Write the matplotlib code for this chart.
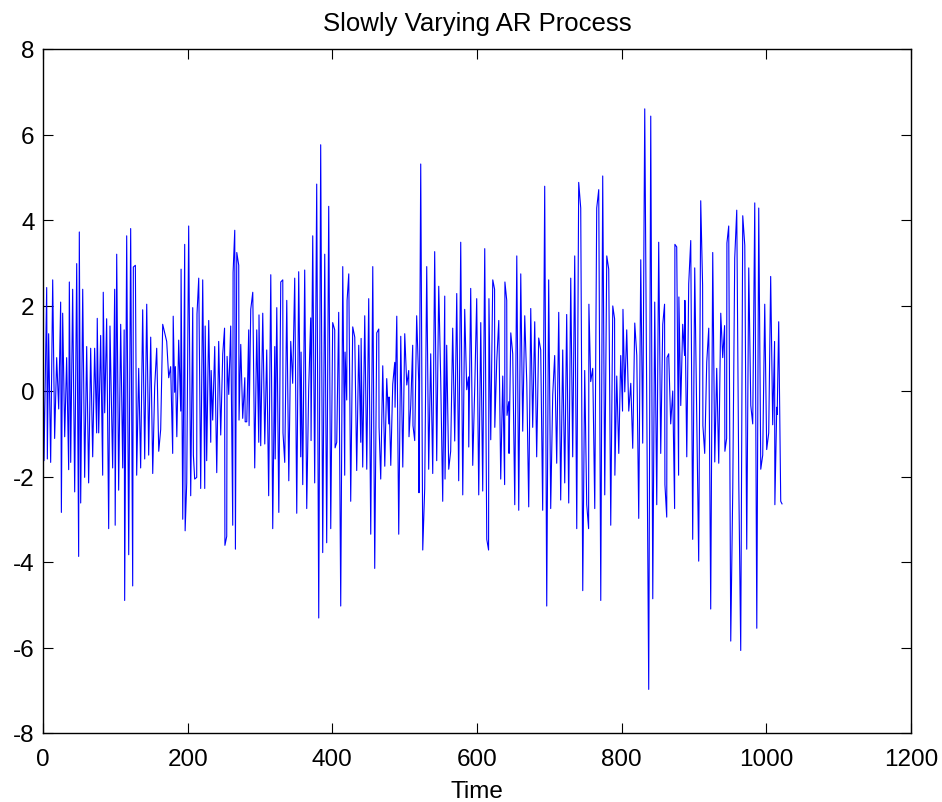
import matplotlib
matplotlib.use("Agg")
import matplotlib.pyplot as plt
from matplotlib import font_manager

# Turning points (time, value)
time = [
    0, 1.4, 5.1, 6.0, 7.8, 10.6, 13.4, 16.1, 18.9, 21.7, 24.4, 25.4, 27.2, 30.0, 32.7, 35.5, 36.4, 38.3,
    41.0, 43.8, 46.6, 49.3, 50.2, 52.1, 54.9, 57.6, 60.4, 63.1, 65.9, 68.7, 71.4, 74.2, 75.0, 77.0,
    79.7, 82.5, 83.3, 85.3, 88.0, 90.8, 92.6, 96.3, 99.1, 99.8, 101.9, 104.6, 107.4, 110.2, 112.2,
    112.9, 115.7, 118.5, 121.2, 124.0, 124.9, 127.7, 129.5, 132.3, 135.0, 137.8, 140.6, 143.4, 146.1,
    148.9, 151.7, 154.4, 157.2, 160.0, 162.7, 165.5,
    171.0, 173.8, 176.5, 179.3, 180.0, 182.0, 183.0, 185.0, 187.6, 190.4, 190.9, 193.2, 195.9, 196.5,
    198.7, 201.4, 204.2, 207.0, 207.9, 209.7, 212.5, 212.9, 215.3, 218.0, 220.8, 223.6, 224.2, 226.3,
    229.1, 231.9, 232.5, 234.6, 237.4, 240.2, 242.9, 245.7, 248.5, 251.0, 251.5, 254.0, 254.5, 256.8,
    259.5, 262.3, 262.8, 265.1, 266.0, 267.9, 270.6, 271.0, 273.4, 276.1, 279.0, 279.5, 281.7, 284.4,
    284.9, 287.2, 290.0, 292.7, 295.5, 298.3, 298.6, 301.0, 303.8, 306.6, 309.3, 312.0, 314.9, 317.6,
    320.4, 321.0, 323.2, 326.0, 328.7, 331.5, 331.8, 334.2, 337.0, 339.8,
    342.5, 345.2, 348.0, 350.8, 353.5, 356.3, 356.8, 359.1, 361.8, 364.6, 367.3, 370.1, 370.6, 372.9,
    375.6, 378.4, 381.2, 383.9, 386.7, 389.5, 392.2, 395.0, 397.8, 400.5, 403.3, 403.8, 406.1, 408.8,
    411.6, 414.4, 417.1, 417.6, 419.9, 420.4, 422.7, 425.4, 428.2, 431.0, 433.7, 436.5, 439.3, 439.8,
    442.0, 444.8, 447.6, 450.3, 453.1, 455.9, 458.6, 461.4, 464.2, 464.6, 466.9, 469.7, 472.5, 475.2,
    478.0, 478.4, 480.8, 483.5, 486.3, 486.7, 489.1, 491.8, 494.6, 497.4, 500.1,
    502.9, 505.6, 506.0, 508.4, 511.1, 511.5, 513.9, 516.6, 519.4, 519.8, 522.2, 525.0, 527.7, 530.5,
    533.2, 536.0, 538.8, 541.5, 544.3, 547.1, 549.8, 552.6, 555.4, 555.8, 558.1, 560.9, 563.6, 566.4,
    569.2, 572.0, 574.7, 577.5, 580.3, 583.0, 585.8, 588.2, 588.6, 591.3, 594.1, 596.9, 599.6, 602.4,
    605.2, 607.9, 610.7, 613.5, 616.0, 616.5, 619.0, 621.8, 624.3, 624.6, 627.3, 630.1, 632.8, 635.6,
    638.2, 638.6, 641.1, 641.5, 643.9, 644.3, 646.7, 649.4, 652.2, 655.0, 657.7, 660.5, 663.2, 666.0,
    668.8, 671.5,
    674.3, 677.0, 679.8, 682.5, 685.3, 688.1, 690.8, 693.6, 696.4, 699.1, 701.9, 704.7, 707.4, 710.2,
    713.0, 715.7, 718.5, 721.3, 724.0, 726.8, 729.6, 732.3, 735.1, 737.9, 740.6, 743.4, 746.2, 748.9,
    751.7, 754.3, 754.7, 757.2, 760.0, 762.8, 765.5, 768.3, 771.1, 773.8, 776.6, 779.4, 782.1, 784.9,
    787.7, 790.2, 790.6, 793.2, 796.0, 798.7, 801.2, 801.8, 804.3, 807.0, 809.8, 812.6, 815.3, 818.1,
    820.9, 823.6, 826.4, 829.1, 831.9,
    837.4, 840.2, 843.0, 845.7, 848.5, 851.2, 854.0, 856.8, 859.3, 859.8, 862.3, 862.7, 865.0, 867.8,
    870.6, 873.2, 873.6, 876.1, 878.7, 879.1, 881.7, 884.4, 887.0, 887.4, 890.0, 892.7, 895.5, 898.2,
    901.0, 906.5, 909.3, 911.9, 912.3, 914.8, 917.6, 920.4, 923.1, 925.9, 928.7, 931.4, 934.2, 937.0,
    939.7, 942.3, 942.7, 945.1, 945.5, 948.0, 950.8, 953.6, 956.3, 959.1, 961.9, 964.6, 967.4, 970.2,
    972.9, 975.7, 978.5, 981.2, 984.0, 986.8, 989.5, 992.3, 995.0,
    997.8, 1000.5, 1003.3, 1006.0, 1008.8, 1011.4, 1011.8, 1014.4, 1015.0, 1017.1, 1019.9, 1021.7,
]

values = [
    1.26, -1.63, 2.42, -1.59, 1.34, -1.67, 2.6, -1.11, 0.78, -0.42, 2.08, -2.84, 1.82, -1.07, 0.78, -1.84, 2.55, -1.67,
    2.38, -2.36, 2.98, -3.87, 3.72, -2.62, 2.38, -2.02, 1.04, -2.15, 1.0, -1.54, 1.0, -0.98, 1.7, -0.98,
    1.3, -1.97, 2.31, -0.51, 1.69, -3.22, 1.52, -1.8, 2.38, -3.14, 3.2, -2.32, 1.56, -1.8, 1.43,
    -4.9, 3.63, -3.83, 3.8, -4.56, 2.9, 2.94, -1.97, 0.53, -1.8, 1.9, -1.59, 2.03, -1.5,
    1.26, -1.93, 0.1, 1.0, -1.41, -0.9, 1.56,
    1.16, 0.31, 0.57, -1.46, 1.75, -0.03, 0.57, -1.07, 1.19, -0.47, 2.85, -3.0, 3.43, -3.27,
    -2.15, 3.86, -2.45, 1.95, -1.5, -2.06, -2.02, 1.8, 2.64, -2.28, 2.6, -2.28, 1.52, -1.63,
    1.65, -1.2, 0.48, -0.68, 1.04, -1.91, 1.16, -1.03, 0.87, 1.47, -3.61, -3.4, 0.81, -0.08,
    1.52, -3.14, 2.77, 3.76, -3.7, 3.24, 2.94, -0.68, 1.09, -0.64, 0.31, -0.72, -0.72, 1.43,
    -0.81, 1.91, 2.31, -1.8, 1.43, -1.2, 1.78, -1.28, 1.82, -1.24, 0.96, -2.45, 2.72, -3.22,
    1.04, -1.59, 1.95, -2.84, 2.55, 2.6, -0.98, -1.67, 2.12, -2.1,
    1.16, 0.18, 2.64, -2.86, 2.79, -1.54, 0.91, -2.19, 2.83, -2.75, 0.05, 1.71, -1.16, 3.63,
    -2.15, 4.84, -5.31, 5.76, -3.78, 3.2, -3.55, 4.32, -3.22, 1.6, 1.43, -1.33, -1.2, 1.84,
    -5.03, 2.91, -1.97, 0.91, -0.21, 2.12, 2.74, -2.58, 1.5, 1.26, -1.86, 1.07, -1.2, 1.23,
    -1.78, 1.76, -1.83, 2.16, -3.35, 2.91, -4.15, 1.36, 1.45, -0.85, -2.06, 0.59, -1.76, 0.29,
    -0.77, -0.14, -1.74, 0.16, 0.67, -0.38, 1.75, -3.35, 1.28, -1.78, 1.34,
    0.14, 0.48, -1.07, -0.34, 1.07, -0.81, -1.16, 1.76, 0.22, -2.38, 5.31, -3.72, -2.28, 2.91,
    -1.83, 0.87, -1.93, 3.26, -1.63, 2.45, 0.3, -2.58, 2.22, -2.06, 1.07, -1.83, -1.41, 1.47,
    -1.17, 2.28, -2.1, 3.48, -2.43, 1.91, 0.03, 0.33, -1.31, 2.4, -1.74, 0.1, 2.16, -2.43,
    1.6, -2.34, 3.33, -3.47, -3.72, 2.16, -1.14, 2.6, 2.38, -0.85, 0.7, 1.65, -2.06, 0.35,
    -2.19, 2.55, 2.12, -0.57, -0.25, -1.46, 1.36, 0.87, -2.66, 3.16, -2.79, 2.74, -0.94, 1.76,
    0.2, -2.71,
    1.93, -0.85, 1.62, -1.54, 1.24, 0.96, -2.79, 4.79, -5.03, 2.6, -2.75, -0.08, 0.83, -1.69,
    1.84, -2.55, 0.96, -2.15, 1.79, -2.62, 2.64, -1.54, 3.16, -3.22, 4.88, 4.28, -4.67, 0.48,
    -2.66, -3.22, 2.03, 0.22, 0.53, -2.75, 4.28, 4.71, -4.9, 5.03, -2.43, 3.16, 2.85, -3.14,
    1.99, 1.69, -1.97, 0.35, -1.46, 0.83, -0.47, 1.91, -0.02, 1.43, -0.47, 0.18, -1.34, 1.59,
    0.83, -2.98, 3.07, -1.22, 6.6,
    -6.98, 6.43, -4.86, 2.08, -2.66, 3.48, -1.46, 1.56, 2.03, -2.19, -2.95, 0.78, 0.87, -0.77,
    0.0, -2.75, 3.43, 3.37, -1.97, 2.2, -0.34, 1.56, 0.83, 2.12, -1.54, 2.51, 3.52, -3.47,
    2.88, -3.98, 4.45, 2.47, -0.81, -1.46, 0.67, 1.47, -5.1, 3.24, -1.66, 0.53, -1.69, 1.82,
    0.78, 1.53, -1.41, -1.11, 3.46, 3.86, -5.85, -2.28, 3.11, 4.23, -2.12, -6.07, 4.1, 3.41,
    -3.7, 2.88, -0.34, -0.77, 4.4, -5.55, 4.28, -1.83, -1.5,
    2.03, -1.37, -0.98, 2.68, -0.79, 1.16, -2.66, -0.38, -0.55, 1.62, -2.58, -2.64,
]

x_ticks = [0, 200, 400, 600, 800, 1000, 1200]
y_ticks = [-8, -6, -4, -2, 0, 2, 4, 6, 8]

available = {f.name for f in font_manager.fontManager.ttflist}
fam = [f for f in ["Liberation Sans", "DejaVu Sans"] if f in available]
plt.rcParams["font.family"] = fam
plt.rcParams["axes.unicode_minus"] = False

fig = plt.figure(figsize=(9.42, 8.03), dpi=100)
ax = fig.add_axes([43 / 942, 1 - 734 / 803, 868 / 942, 684 / 803])
ax.plot(time, values, color=(0, 0, 1), linewidth=0.8)

ax.set_xlim(0, 1200)
ax.set_ylim(-8, 8)
ax.set_xticks(x_ticks)
ax.set_yticks(y_ticks)
ax.tick_params(direction="in", length=7, width=0.8, top=True, right=True,
               labelsize=17.5, colors="black")
ax.tick_params(axis="x", pad=11)
ax.tick_params(axis="y", pad=6)
for s in ax.spines.values():
    s.set_linewidth(1.0)
    s.set_color("black")

ax.set_title("Slowly Varying AR Process", fontsize=18.5, pad=14)
ax.set_xlabel("Time", fontsize=17.5, labelpad=7)

fig.savefig("out.png", dpi=100)
